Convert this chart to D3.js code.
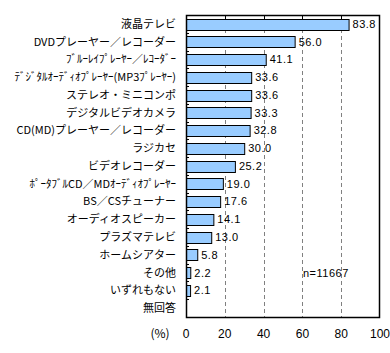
<!DOCTYPE html>
<html lang="ja">
<head>
<meta charset="UTF-8">
<title>所有している映像・音響機器</title>
<script src="https://cdnjs.cloudflare.com/ajax/libs/d3/7.8.5/d3.min.js"></script>
<style>
    body { margin: 0; background: #fff; }
    svg text { font-family: "Noto Sans CJK JP", sans-serif; fill: #000; }
</style>
</head>
<body>
<div id="chart"></div>
<script>
// categories and values (%)
const categories = [
    "液晶テレビ",
    "DVDプレーヤー／レコーダー",
    "ﾌﾞﾙｰﾚｲﾌﾟﾚｰﾔｰ／ﾚｺｰﾀﾞｰ",
    "ﾃﾞｼﾞﾀﾙｵｰﾃﾞｨｵﾌﾟﾚｰﾔｰ(MP3ﾌﾟﾚｰﾔｰ)",
    "ステレオ・ミニコンポ",
    "デジタルビデオカメラ",
    "CD(MD)プレーヤー／レコーダー",
    "ラジカセ",
    "ビデオレコーダー",
    "ﾎﾟｰﾀﾌﾞﾙCD／MDｵｰﾃﾞｨｵﾌﾟﾚｰﾔｰ",
    "BS／CSチューナー",
    "オーディオスピーカー",
    "プラズマテレビ",
    "ホームシアター",
    "その他",
    "いずれもない",
    "無回答"
];
const values = [83.8, 56.0, 41.1, 33.6, 33.6, 33.3, 32.8, 30.0, 25.2, 19.0, 17.6, 14.1, 13.0, 5.8, 2.2, 2.1, null];
const xTicks = [0, 20, 40, 60, 80, 100];
const sampleNote = "n=11667";

const width = 390, height = 353;
const margin = { top: 15, right: 10, bottom: 36, left: 186 };

const svg = d3.select("#chart").append("svg")
    .attr("width", width)
    .attr("height", height);

const x = d3.scaleLinear().domain([0, 100]).range([margin.left, width - margin.right]);
const y = d3.scaleBand().domain(categories).range([margin.top, height - margin.bottom]).paddingInner(0.4).paddingOuter(0.2);
const rowStep = (height - margin.bottom - margin.top) / categories.length;

// dashed gridlines
svg.append("g")
    .selectAll("line")
    .data(xTicks.filter(t => t > 0 && t < 100))
    .join("line")
    .attr("x1", d => Math.round(x(d)) + 0.5)
    .attr("x2", d => Math.round(x(d)) + 0.5)
    .attr("y1", margin.top)
    .attr("y2", height - margin.bottom)
    .attr("stroke", "#808080")
    .attr("stroke-dasharray", "4,3");

// bars
const data = categories.map((c, i) => ({ cat: c, val: values[i] }));
svg.append("g")
    .selectAll("rect")
    .data(data.filter(d => d.val != null))
    .join("rect")
    .attr("x", x(0) + 0.5)
    .attr("y", d => Math.round(y(d.cat)) + 0.5)
    .attr("width", d => x(d.val) - x(0))
    .attr("height", Math.round(y.bandwidth()))
    .attr("fill", "#99ccff")
    .attr("stroke", "#000")
    .attr("stroke-width", 1);

// value labels
svg.append("g")
    .selectAll("text")
    .data(data.filter(d => d.val != null))
    .join("text")
    .attr("x", d => x(d.val) + 4)
    .attr("y", d => y(d.cat) + y.bandwidth() / 2)
    .attr("dy", "0.36em")
    .style("font-size", "11px")
    .style("font-family", "'Liberation Sans', sans-serif")
    .style("letter-spacing", "0.5px")
    .text(d => d.val.toFixed(1));

// frame
svg.append("rect")
    .attr("x", x(0) + 0.5)
    .attr("y", margin.top + 0.5)
    .attr("width", x(100) - x(0) - 1)
    .attr("height", height - margin.bottom - margin.top)
    .attr("fill", "none")
    .attr("stroke", "#000")
    .attr("stroke-width", 1.5);

// top ticks
svg.append("g")
    .selectAll("line")
    .data(xTicks.filter(t => t > 0 && t < 100))
    .join("line")
    .attr("x1", d => Math.round(x(d)) + 0.5)
    .attr("x2", d => Math.round(x(d)) + 0.5)
    .attr("y1", margin.top)
    .attr("y2", margin.top + 4)
    .attr("stroke", "#000");

// left ticks at category boundaries
svg.append("g")
    .selectAll("line")
    .data(d3.range(1, categories.length))
    .join("line")
    .attr("x1", x(0))
    .attr("x2", x(0) + 3)
    .attr("y1", i => Math.round(margin.top + i * rowStep) + 0.5)
    .attr("y2", i => Math.round(margin.top + i * rowStep) + 0.5)
    .attr("stroke", "#000");

// category labels
svg.append("g")
    .selectAll("text")
    .data(categories)
    .join("text")
    .attr("x", x(0) - 10)
    .attr("y", d => y(d) + y.bandwidth() / 2)
    .attr("dy", "0.36em")
    .attr("text-anchor", "end")
    .style("font-size", "11px")
    .text(d => d);

// x tick labels
svg.append("g")
    .selectAll("text")
    .data(xTicks)
    .join("text")
    .attr("x", d => x(d))
    .attr("y", 334)
    .attr("dy", "0.36em")
    .attr("text-anchor", "middle")
    .style("font-size", "12px")
    .style("font-family", "'Liberation Sans', sans-serif")
    .text(d => d);

svg.append("text")
    .attr("x", 160)
    .attr("y", 334)
    .attr("dy", "0.36em")
    .attr("text-anchor", "middle")
    .style("font-size", "12px")
    .text("(%)");

svg.append("text")
    .attr("x", 303)
    .attr("y", y("その他") + y.bandwidth() / 2)
    .attr("dy", "0.36em")
    .style("font-size", "11px")
    .style("font-family", "'Liberation Sans', sans-serif")
    .style("letter-spacing", "0.5px")
    .text(sampleNote);
</script>
</body>
</html>
